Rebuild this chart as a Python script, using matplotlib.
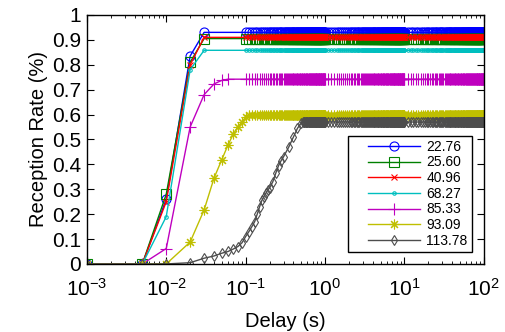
import numpy as np
import matplotlib
matplotlib.use("Agg")
import matplotlib.pyplot as plt
from matplotlib.ticker import LogLocator, FixedLocator, NullFormatter
from matplotlib.lines import Line2D
from matplotlib.legend_handler import HandlerLine2D

plt.rcParams['font.family'] = ['Liberation Sans', 'DejaVu Sans']
plt.rcParams['mathtext.fontset'] = 'custom'
plt.rcParams['mathtext.rm'] = 'Liberation Sans'
plt.rcParams['mathtext.it'] = 'Liberation Sans'

labels = ["22.76", "25.60", "40.96", "68.27", "85.33", "93.09", "113.78"]

# sampling grid of the plateau part (delay values, s)
plateau_x = list(np.arange(0.10, 0.999, 0.01)) + list(np.arange(1.0, 9.99, 0.1)) + list(np.arange(10.0, 100.01, 1.0))

x_rise_fast = [0.001, 0.005, 0.01, 0.02, 0.03]
blue_y = [0, 0, 0.26, 0.835, 0.93]
green_y = [0, 0, 0.28, 0.81, 0.905]
red_y = [0, 0, 0.25, 0.80, 0.91]
cyan_y = [0, 0, 0.19, 0.78, 0.858]

x_rise_mag = [0.001, 0.005, 0.01, 0.02, 0.03, 0.04, 0.05, 0.06]
mag_y = [0, 0, 0.062, 0.55, 0.68, 0.723, 0.737, 0.742]

x_rise_yel = [0.001, 0.005, 0.01, 0.02, 0.03, 0.04, 0.05, 0.06, 0.07, 0.08, 0.09, 0.10, 0.11]
yel_y = [0, 0, 0, 0.088, 0.217, 0.345, 0.418, 0.478, 0.522, 0.551, 0.571, 0.59, 0.60]

x_rise_gray = [0.001, 0.005, 0.01, 0.02, 0.03, 0.04, 0.05, 0.06, 0.07, 0.08, 0.09,
               0.10, 0.11, 0.12, 0.13, 0.14, 0.15, 0.16, 0.17, 0.18, 0.19, 0.20,
               0.22, 0.24, 0.26, 0.28, 0.30, 0.35, 0.40, 0.45, 0.50, 0.53]
gray_y = [0, 0, 0, 0.005, 0.023, 0.032, 0.043, 0.05, 0.06, 0.07, 0.085,
          0.11, 0.13, 0.15, 0.17, 0.20, 0.23, 0.255, 0.27, 0.285, 0.297, 0.305,
          0.33, 0.365, 0.395, 0.415, 0.43, 0.47, 0.51, 0.545, 0.565, 0.57]

plateau_vals = [0.93, 0.905, 0.91, 0.858, 0.742, 0.60, 0.57]

series = [
    (x_rise_fast, blue_y, plateau_vals[0], (0, 0, 1), 'o', 6.5),
    (x_rise_fast, green_y, plateau_vals[1], (0, 0.5, 0), 's', 6.5),
    (x_rise_fast, red_y, plateau_vals[2], (1, 0, 0), 'x', 4),
    (x_rise_fast, cyan_y, plateau_vals[3], (0, 0.75, 0.75), '.', 5),
    (x_rise_mag, mag_y, plateau_vals[4], (0.75, 0, 0.75), '+', 8),
    (x_rise_yel, yel_y, plateau_vals[5], (0.75, 0.75, 0), (8, 2, 0), 7),
    (x_rise_gray, gray_y, plateau_vals[6], (0.3, 0.3, 0.3), 'd', 5.5),
]

fig = plt.figure(figsize=(5.05, 3.32), dpi=100)
ax = fig.add_axes([0.172, 0.205, 0.786, 0.750])

for (xr, yr, pv, col, mk, ms), lab in zip(series, labels):
    xs = list(xr) + [g for g in plateau_x if g > xr[-1] + 1e-9]
    ys = list(yr) + [pv] * (len(xs) - len(xr))
    ax.plot(xs, ys, color=col, marker=mk, markersize=ms, markerfacecolor='none',
            markeredgecolor=col, markeredgewidth=0.8, linewidth=1.0, label=lab)

ax.set_xscale('log')
ax.set_xlim(1e-3, 1e2)
ax.set_ylim(0, 1)
ax.xaxis.set_major_locator(LogLocator(base=10, numticks=10))
ax.xaxis.set_minor_locator(LogLocator(base=10, subs=np.arange(2, 10), numticks=20))
ax.xaxis.set_minor_formatter(NullFormatter())
yt = [0, 0.1, 0.2, 0.3, 0.4, 0.5, 0.6, 0.7, 0.8, 0.9, 1]
ax.yaxis.set_major_locator(FixedLocator(yt))
ax.set_yticklabels(["0", "0.1", "0.2", "0.3", "0.4", "0.5", "0.6", "0.7", "0.8", "0.9", "1"])

ax.tick_params(which='both', direction='in', top=True, right=True)
ax.tick_params(axis='y', labelsize=15, pad=4)
ax.tick_params(axis='x', labelsize=15, pad=10)
ax.tick_params(which='major', length=5, width=0.8)
ax.tick_params(which='minor', length=2.5, width=0.6)
for s in ax.spines.values():
    s.set_linewidth(1.0)

ax.set_xlabel("Delay (s)", fontsize=14.5, labelpad=9)
ax.set_ylabel("Reception Rate (%)", fontsize=14.5, labelpad=3)

leg = ax.legend(loc='lower right', bbox_to_anchor=(0.970, 0.048), fontsize=10,
                numpoints=1, handlelength=4.88, handletextpad=0.5, labelspacing=0.12,
                borderpad=0.3, borderaxespad=0, fancybox=False, framealpha=1,
                edgecolor='black', handler_map={Line2D: HandlerLine2D(xpad=1.14)})
leg.get_frame().set_linewidth(1.0)

fig.savefig("out.png", dpi=100)
